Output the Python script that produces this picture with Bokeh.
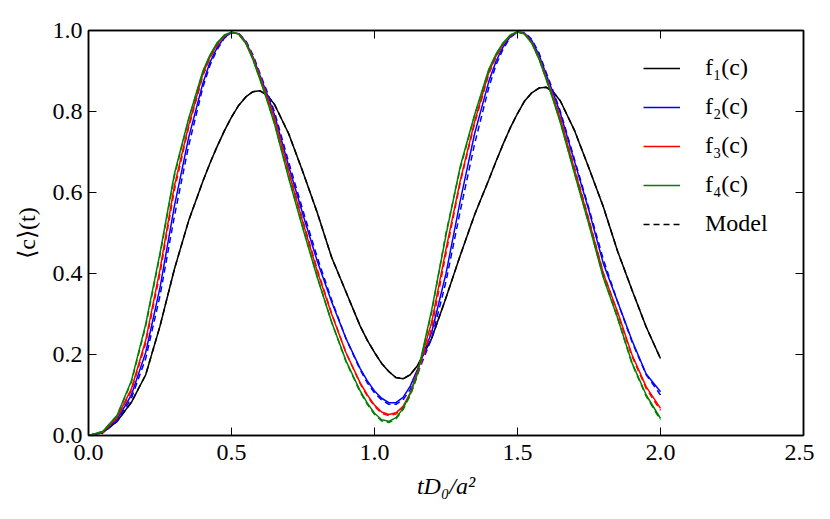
from bokeh.plotting import figure
from bokeh.models import Range1d, LinearAxis, FixedTicker, Legend, LegendItem
from bokeh.embed import file_html
from bokeh.resources import INLINE

t = [0.00, 0.05, 0.10, 0.15, 0.20, 0.25, 0.30, 0.35, 0.40,
     0.425, 0.45, 0.475, 0.50, 0.525, 0.55, 0.575, 0.60, 0.625, 0.65,
     0.70, 0.75, 0.80, 0.85, 0.90, 0.95,
     0.975, 1.00, 1.025, 1.05, 1.075, 1.10, 1.125, 1.15,
     1.20, 1.25, 1.30, 1.35, 1.40,
     1.425, 1.45, 1.475, 1.50, 1.525, 1.55, 1.575, 1.60, 1.625, 1.65,
     1.70, 1.75, 1.80, 1.85, 1.90, 1.95, 2.00]

f1 = [0.000, 0.007, 0.035, 0.082, 0.150, 0.270, 0.410, 0.530, 0.628,
      0.673, 0.714, 0.752, 0.786, 0.815, 0.836, 0.849, 0.851, 0.840, 0.818,
      0.745, 0.650, 0.550, 0.440, 0.355, 0.270,
      0.235, 0.205, 0.178, 0.158, 0.143, 0.140, 0.150, 0.172,
      0.240, 0.340, 0.445, 0.545, 0.632,
      0.677, 0.720, 0.760, 0.795, 0.826, 0.846, 0.858, 0.860, 0.848, 0.826,
      0.752, 0.660, 0.565, 0.455, 0.360, 0.268, 0.190]

f2 = [0.000, 0.008, 0.040, 0.100, 0.205, 0.365, 0.565, 0.735, 0.870,
      0.922, 0.958, 0.983, 0.995, 0.992, 0.972, 0.935, 0.888, 0.842, 0.792,
      0.665, 0.545, 0.430, 0.330, 0.240, 0.165,
      0.135, 0.110, 0.092, 0.081, 0.081, 0.094, 0.122, 0.163,
      0.255, 0.400, 0.580, 0.745, 0.875,
      0.924, 0.960, 0.985, 0.996, 0.993, 0.975, 0.940, 0.892, 0.845, 0.795,
      0.675, 0.555, 0.425, 0.330, 0.235, 0.152, 0.108]

f3 = [0.000, 0.009, 0.045, 0.115, 0.235, 0.410, 0.615, 0.765, 0.893,
      0.935, 0.966, 0.987, 0.996, 0.992, 0.970, 0.932, 0.883, 0.834, 0.782,
      0.650, 0.525, 0.405, 0.300, 0.205, 0.130,
      0.100, 0.075, 0.058, 0.052, 0.056, 0.072, 0.105, 0.158,
      0.280, 0.460, 0.630, 0.775, 0.898,
      0.937, 0.967, 0.988, 0.997, 0.992, 0.970, 0.932, 0.883, 0.834, 0.782,
      0.655, 0.530, 0.400, 0.305, 0.200, 0.120, 0.067]

f4 = [0.000, 0.010, 0.050, 0.135, 0.275, 0.450, 0.645, 0.782, 0.900,
      0.940, 0.970, 0.989, 0.996, 0.991, 0.968, 0.928, 0.878, 0.826, 0.770,
      0.635, 0.510, 0.390, 0.280, 0.185, 0.110,
      0.080, 0.055, 0.039, 0.035, 0.044, 0.067, 0.103, 0.152,
      0.310, 0.495, 0.665, 0.792, 0.905,
      0.942, 0.970, 0.989, 0.997, 0.991, 0.968, 0.930, 0.880, 0.828, 0.772,
      0.645, 0.520, 0.390, 0.290, 0.180, 0.100, 0.042]

m1 = [0.000, 0.007, 0.035, 0.082, 0.150, 0.270, 0.410, 0.530, 0.628,
      0.673, 0.714, 0.752, 0.786, 0.815, 0.836, 0.849, 0.851, 0.840, 0.818,
      0.745, 0.650, 0.550, 0.440, 0.355, 0.270,
      0.235, 0.205, 0.178, 0.158, 0.143, 0.140, 0.150, 0.172,
      0.240, 0.340, 0.445, 0.545, 0.632,
      0.677, 0.720, 0.760, 0.795, 0.826, 0.846, 0.858, 0.860, 0.848, 0.826,
      0.752, 0.660, 0.565, 0.455, 0.360, 0.268, 0.190]

m2 = [0.000, 0.007, 0.036, 0.092, 0.190, 0.345, 0.540, 0.715, 0.860,
      0.915, 0.953, 0.981, 0.995, 0.993, 0.975, 0.940, 0.893, 0.848, 0.800,
      0.675, 0.555, 0.440, 0.335, 0.240, 0.162,
      0.130, 0.105, 0.088, 0.077, 0.077, 0.088, 0.114, 0.152,
      0.240, 0.380, 0.555, 0.720, 0.860,
      0.915, 0.955, 0.983, 0.996, 0.995, 0.978, 0.945, 0.897, 0.850, 0.800,
      0.680, 0.560, 0.435, 0.330, 0.232, 0.150, 0.100]

m3 = [0.000, 0.008, 0.043, 0.110, 0.228, 0.400, 0.605, 0.760, 0.888,
      0.932, 0.963, 0.986, 0.996, 0.993, 0.972, 0.935, 0.887, 0.838, 0.786,
      0.655, 0.530, 0.410, 0.302, 0.205, 0.128,
      0.097, 0.072, 0.055, 0.049, 0.053, 0.068, 0.099, 0.148,
      0.265, 0.450, 0.625, 0.770, 0.893,
      0.934, 0.966, 0.987, 0.997, 0.993, 0.972, 0.935, 0.887, 0.838, 0.786,
      0.660, 0.533, 0.402, 0.302, 0.196, 0.116, 0.062]

m4 = [0.000, 0.010, 0.049, 0.132, 0.270, 0.445, 0.640, 0.780, 0.898,
      0.938, 0.969, 0.988, 0.996, 0.991, 0.969, 0.930, 0.880, 0.828, 0.772,
      0.638, 0.513, 0.392, 0.280, 0.183, 0.107,
      0.077, 0.052, 0.036, 0.032, 0.041, 0.064, 0.100, 0.148,
      0.305, 0.500, 0.660, 0.790, 0.903,
      0.940, 0.969, 0.989, 0.997, 0.991, 0.969, 0.931, 0.881, 0.830, 0.774,
      0.647, 0.522, 0.392, 0.290, 0.178, 0.097, 0.038]

x_ticks = [0.0, 0.5, 1.0, 1.5, 2.0, 2.5]
x_tick_labels = ["0.0", "0.5", "1.0", "1.5", "2.0", "2.5"]
y_ticks = [0.0, 0.2, 0.4, 0.6, 0.8, 1.0]
y_tick_labels = ["0.0", "0.2", "0.4", "0.6", "0.8", "1.0"]
legend_labels = ["f\u2081(c)", "f\u2082(c)", "f\u2083(c)", "f\u2084(c)", "Model"]

FONT = "Liberation Serif"
FS = "24px"

p = figure(width=814, height=503, output_backend="svg", toolbar_location=None,
           x_range=Range1d(0, 2.5), y_range=Range1d(0, 1.0),
           min_border_left=88, min_border_right=11, min_border_top=30,
           min_border_bottom=68, x_axis_location=None, y_axis_location=None)
p.grid.visible = False
p.outline_line_color = "black"
p.outline_line_width = 1.5
p.background_fill_color = "white"
p.border_fill_color = "white"

def make_axis(ticks, labels, show):
    ax = LinearAxis(ticker=FixedTicker(ticks=ticks))
    if show:
        ax.major_label_overrides = {tk: lb for tk, lb in zip(ticks, labels)}
    else:
        ax.major_label_overrides = {tk: "" for tk in ticks}
    ax.major_tick_in = 8
    ax.major_tick_out = 0
    ax.minor_tick_line_color = None
    ax.axis_line_color = "black"
    ax.axis_line_width = 1.5
    ax.major_tick_line_color = "black"
    ax.major_tick_line_width = 1
    ax.major_label_text_font = FONT
    ax.major_label_text_font_size = FS
    ax.major_label_text_color = "black"
    ax.major_label_standoff = 6 if show else 0
    return ax

xb = make_axis(x_ticks, x_tick_labels, True)
xb.major_label_standoff = 9
xb.axis_label = "tD\u2080/a\u00b2"
xb.axis_label_text_font = FONT
xb.axis_label_text_font_size = FS
xb.axis_label_text_font_style = "italic"
xb.axis_label_text_color = "black"
xb.axis_label_standoff = 10
p.add_layout(xb, "below")

yl = make_axis(y_ticks, y_tick_labels, True)
yl.axis_label = "\u27e8c\u27e9(t)"
yl.axis_label_text_font = FONT
yl.axis_label_text_font_size = FS
yl.axis_label_text_font_style = "normal"
yl.axis_label_text_color = "black"
yl.axis_label_standoff = 10
p.add_layout(yl, "left")

p.add_layout(make_axis(x_ticks, x_tick_labels, False), "above")
p.add_layout(make_axis(y_ticks, y_tick_labels, False), "right")

LW = 1.5
DASH = "6 4"
r1 = p.line(t, f1, line_color="black", line_width=LW)
d1 = p.line(t, m1, line_color="black", line_width=LW, line_dash=DASH)
r2 = p.line(t, f2, line_color="#0000ff", line_width=LW)
d2 = p.line(t, m2, line_color="#0000ff", line_width=LW, line_dash=DASH)
r3 = p.line(t, f3, line_color="#ff0000", line_width=LW)
d3 = p.line(t, m3, line_color="#ff0000", line_width=LW, line_dash=DASH)
r4 = p.line(t, f4, line_color="#008000", line_width=LW)
d4 = p.line(t, m4, line_color="#008000", line_width=LW, line_dash=DASH)

legend = Legend(items=[LegendItem(label=legend_labels[0], renderers=[r1]),
                       LegendItem(label=legend_labels[1], renderers=[r2]),
                       LegendItem(label=legend_labels[2], renderers=[r3]),
                       LegendItem(label=legend_labels[3], renderers=[r4]),
                       LegendItem(label=legend_labels[4], renderers=[d1])],
                location=(555, 198))
legend.border_line_color = None
legend.background_fill_alpha = 0
legend.padding = 0
legend.margin = 0
legend.spacing = 12
legend.glyph_width = 37
legend.glyph_height = 20
legend.label_height = 20
legend.label_standoff = 25
legend.label_text_font = FONT
legend.label_text_font_size = FS
legend.label_text_color = "black"
legend.label_text_baseline = "middle"
p.add_layout(legend, "center")

open("out.html", "w").write(file_html(p, INLINE))
